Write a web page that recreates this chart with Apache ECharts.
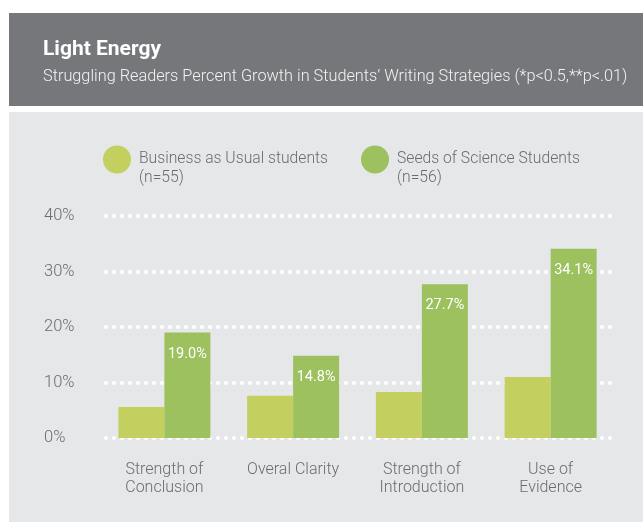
<!DOCTYPE html>
<html>
<head>
<meta charset="utf-8">
<script src="https://cdn.jsdelivr.net/npm/echarts@6/dist/echarts.min.js"></script>
<style>
  html, body { margin: 0; padding: 0; background: #fff; }
  #chart { width: 643px; height: 522px; }
</style>
</head>
<body>
<div id="chart"></div>
<script>
  // data
  var categories = ['Strength of\nConclusion', 'Overal Clarity', 'Strength of\nIntroduction', 'Use of\nEvidence'];
  var seriesNames = ['Business as Usual students', 'Seeds of Science Students'];
  var sampleSizes = ['(n=55)', '(n=56)'];
  var usualValues = [5.6, 7.6, 8.3, 11.0];
  var seedsValues = [19.0, 14.8, 27.7, 34.1];
  var yTicks = [0, 10, 20, 30, 40];

  var font = 'Roboto';
  var grey = '#6b6c70';
  var lightGreen = '#c3d05f';
  var green = '#9dc15f';

  var chart = echarts.init(document.getElementById('chart'));

  // one legend per series so each can sit where the reference puts it
  function legendFor(i, left) {
    return {
      left: left,
      top: 131,
      padding: 0,
      data: [seriesNames[i]],
      icon: 'circle',
      itemWidth: 28,
      itemHeight: 28,
      selectedMode: false,
      // empty first line keeps the circle level with the series name
      formatter: function (name) { return '\n' + name + '\n' + sampleSizes[i]; },
      textStyle: {
        fontFamily: font, fontWeight: 300, fontSize: 15.7, lineHeight: 19,
        color: grey, padding: [0, 0, 0, 3]
      }
    };
  }

  chart.setOption({
    animation: false,
    graphic: [
      { type: 'rect', z: -10, silent: true, shape: { x: 9, y: 13, width: 634, height: 93 }, style: { fill: '#76777b' } },
      { type: 'rect', z: -10, silent: true, shape: { x: 9, y: 112, width: 634, height: 410 }, style: { fill: '#e6e7e9' } }
    ],
    title: {
      text: 'Light Energy',
      subtext: 'Struggling Readers Percent Growth in Students\u2019 Writing Strategies (*p<0.5,**p<.01)',
      left: 38,
      top: 33,
      itemGap: 5,
      textStyle: { fontFamily: font, fontWeight: 'bold', fontSize: 21, lineHeight: 24, color: '#fff' },
      subtextStyle: { fontFamily: font, fontWeight: 300, fontSize: 16.3, lineHeight: 19, color: '#f2f2f2' }
    },
    legend: [legendFor(0, 103), legendFor(1, 361)],
    grid: { left: 100, right: 28, top: 216, bottom: 84 },
    xAxis: {
      type: 'category',
      data: categories,
      axisLine: { show: false },
      axisTick: { show: false },
      axisLabel: {
        margin: 23, fontFamily: font, fontWeight: 300, fontSize: 16, lineHeight: 18, color: grey
      }
    },
    yAxis: {
      type: 'value',
      min: yTicks[0],
      max: yTicks[yTicks.length - 1],
      interval: 10,
      axisLine: { show: false },
      axisTick: { show: false },
      axisLabel: {
        formatter: '{value}%', align: 'left', margin: 56,
        fontFamily: font, fontWeight: 300, fontSize: 16.5, color: grey
      },
      splitLine: {
        lineStyle: { color: '#ffffff', width: 4, type: [0, 8], cap: 'round', dashOffset: -6 }
      }
    },
    series: [
      {
        name: seriesNames[0],
        type: 'bar',
        data: usualValues,
        barWidth: 46,
        barGap: '0%',
        itemStyle: { color: lightGreen }
      },
      {
        name: seriesNames[1],
        type: 'bar',
        data: seedsValues,
        barWidth: 46,
        itemStyle: { color: green },
        label: {
          show: true,
          position: 'insideTop',
          distance: 14,
          formatter: function (p) { return p.value.toFixed(1) + '%'; },
          fontFamily: font, fontSize: 14.5, color: '#ffffff'
        }
      }
    ]
  });
</script>
</body>
</html>
